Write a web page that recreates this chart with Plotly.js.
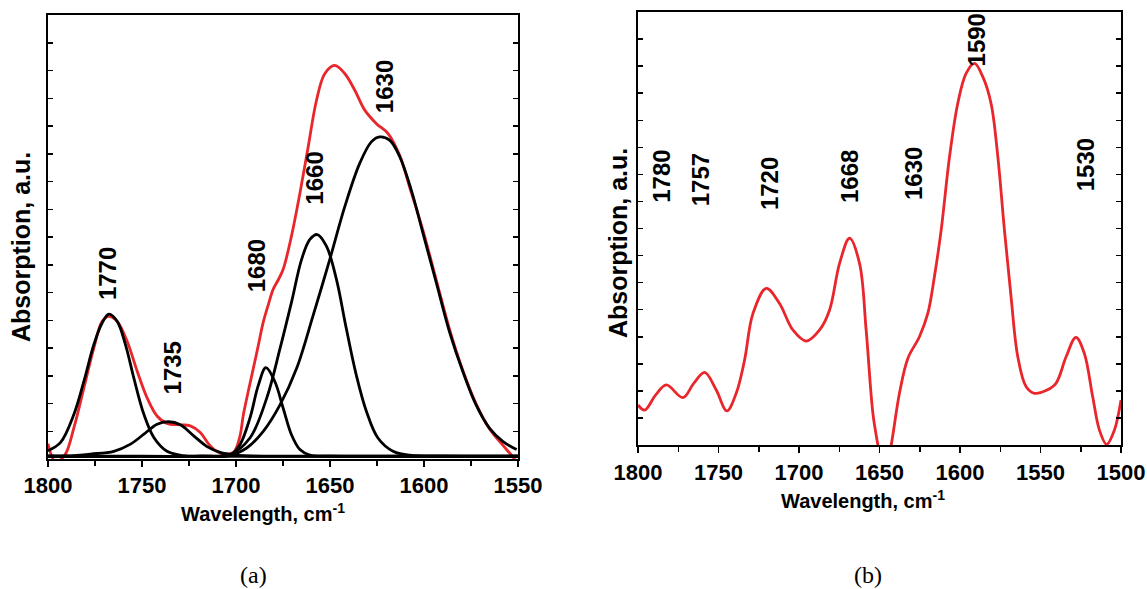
<!DOCTYPE html>
<html>
<head>
<meta charset="utf-8">
<script src="https://cdn.plot.ly/plotly-3.0.1.min.js"></script>
<style>html,body{margin:0;padding:0;background:#fff;}#chart{width:1147px;height:589px;}</style>
</head>
<body>
<div id="chart"></div>
<script>
// ---------- Panel (a): measured spectrum (red) and fitted components (black) ----------
const aSumX = [1800, 1796, 1791, 1786.2, 1780.9, 1775.6, 1771.2, 1767.6, 1763.2, 1757.9, 1752.6, 1747.3, 1742, 1736.7, 1729.6, 1724.3, 1719, 1714.5, 1710.1, 1705.7, 1701.3, 1698, 1696.1, 1693.5, 1690.8, 1688.2, 1685.5, 1682.8, 1680.2, 1677.5, 1674.9, 1670.5, 1666, 1661.6, 1657.2, 1652.8, 1647.5, 1642.1, 1636.8, 1631.5, 1625.3, 1619.1, 1612.9, 1607.6, 1600.6, 1593.5, 1586.4, 1579.3, 1572.3, 1565.2, 1558.1, 1553, 1550];
const aSumY = [0.45, -0.2, 0.05, 1.04, 2.48, 3.93, 4.89, 5.07, 4.89, 4.17, 3.09, 2.12, 1.46, 1.19, 1.14, 1.10, 0.86, 0.44, 0.17, 0.08, 0.14, 0.7, 1.5, 2.35, 3.18, 4.0, 4.86, 5.5, 6.06, 6.4, 6.78, 7.98, 9.54, 11.22, 12.9, 13.87, 14.17, 13.87, 13.27, 12.55, 12.06, 11.7, 10.9, 9.75, 8.2, 6.4, 4.6, 3.1, 1.9, 1.0, 0.4, 0.0, -0.3];

const a1770X = [1800, 1793.3, 1786.2, 1780.9, 1775.6, 1771.2, 1767.6, 1763.2, 1758.8, 1754.4, 1749.0, 1743.7, 1736.7, 1727.8, 1715, 1700, 1650, 1600, 1550];
const a1770Y = [0.2, 0.5, 1.52, 2.72, 4.05, 4.83, 5.15, 4.89, 4.05, 2.85, 1.52, 0.68, 0.18, 0.02, 0, 0, 0, 0, 0];

const a1735X = [1800, 1790, 1777.4, 1765, 1756.1, 1749, 1742, 1735.8, 1729.6, 1722.5, 1715.4, 1708.4, 1701.3, 1690, 1650, 1600, 1550];
const a1735Y = [0, 0.01, 0.08, 0.18, 0.44, 0.80, 1.16, 1.25, 1.14, 0.74, 0.35, 0.14, 0.05, 0, 0, 0, 0];

const a1680X = [1800, 1750, 1712, 1703.2, 1697.9, 1692.6, 1688.1, 1684.1, 1679.3, 1674.9, 1670.5, 1666, 1660.7, 1650, 1600, 1550];
const a1680Y = [0, 0, 0, 0.04, 0.42, 1.38, 2.58, 3.21, 2.70, 1.74, 0.78, 0.24, 0.04, 0, 0, 0];

const a1660X = [1800, 1720, 1703.2, 1692.6, 1683.7, 1676.6, 1670.5, 1665.1, 1660.7, 1656.8, 1651.9, 1646.6, 1641.3, 1636, 1630.6, 1624.5, 1616.5, 1607.6, 1590, 1550];
const a1660Y = [0, 0, 0.06, 0.66, 2.1, 3.9, 5.58, 7.14, 7.86, 8.04, 7.62, 6.42, 4.62, 2.94, 1.62, 0.66, 0.18, 0.04, 0, 0];

const a1630X = [1800, 1720, 1703.2, 1694.3, 1685.5, 1676.6, 1667.8, 1659, 1650.1, 1642.1, 1634.2, 1628, 1623.6, 1618.3, 1612.9, 1606.8, 1600.6, 1593.5, 1586.4, 1579.3, 1572.3, 1565.2, 1558.1, 1550.7];
const a1630Y = [0, 0, 0.04, 0.30, 0.90, 1.86, 3.18, 5.10, 7.14, 9.06, 10.62, 11.40, 11.58, 11.46, 10.86, 9.66, 8.10, 6.30, 4.50, 3.06, 1.86, 1.02, 0.54, 0.24];

const aLabels = ['1770', '1735', '1680', '1660', '1630'];
const aLabelX = [1768.2, 1733.6, 1689, 1658.1, 1620.6];
const aLabelY = [5.6, 2.18, 5.88, 9.06, 12.36];

// ---------- Panel (b): spectrum ----------
const bX = [1800, 1795.9, 1789, 1782.4, 1772.1, 1765.4, 1758.6, 1751.4, 1744.8, 1739, 1733.8, 1728.6, 1720.3, 1712.1, 1703.8, 1695.5, 1687.2, 1681, 1674.8, 1668.6, 1662.4, 1658.3, 1654.1, 1651, 1647, 1642.7, 1637.6, 1632.4, 1625.2, 1620, 1615.9, 1611.7, 1606.5, 1601.4, 1596.2, 1591, 1585.8, 1580.7, 1576.5, 1572.4, 1568.3, 1564.1, 1559, 1553.8, 1546.6, 1540.4, 1534.1, 1528, 1522.8, 1517.6, 1513.4, 1508.9, 1504.1, 1500];
const bY = [1.48, 1.29, 1.85, 2.22, 1.75, 2.28, 2.68, 2.03, 1.26, 1.91, 3.14, 4.86, 5.79, 5.23, 4.25, 3.84, 4.25, 4.99, 6.71, 7.64, 6.71, 4.25, 1.17, 0, -1.3, 0, 1.91, 3.2, 4.0, 4.86, 6.22, 7.94, 10.65, 12.62, 13.73, 14.1, 13.6, 12.62, 10.65, 7.94, 5.48, 3.26, 2.16, 1.91, 2.01, 2.28, 3.26, 3.98, 3.39, 1.79, 0.55, 0.02, 0.55, 1.66];

const bLabels = ['1780', '1757', '1720', '1668', '1630', '1590', '1530'];
const bLabelX = [1785.5, 1760.7, 1718.7, 1668.6, 1629.3, 1590, 1522.1];
const bLabelY = [8.87, 8.74, 8.62, 8.87, 8.99, 13.9, 9.3];

const xTitle = 'Wavelength, cm<sup>-1</sup>';
const yTitle = 'Absorption, a.u.';
const captions = ['(a)', '(b)'];

// ---------- styling ----------
const RED = '#e8262b';
const BLK = '#000000';
const F = 'Liberation Sans, Arial, sans-serif';
const line = (c) => ({color: c, width: 2.8, shape: 'spline', smoothing: 1});

const traces = [
  {x: aSumX, y: aSumY, xaxis: 'x', yaxis: 'y', mode: 'lines', line: line(RED), name: 'spectrum a'},
  {x: a1770X, y: a1770Y, xaxis: 'x', yaxis: 'y', mode: 'lines', line: line(BLK), name: '1770'},
  {x: a1735X, y: a1735Y, xaxis: 'x', yaxis: 'y', mode: 'lines', line: line(BLK), name: '1735'},
  {x: a1680X, y: a1680Y, xaxis: 'x', yaxis: 'y', mode: 'lines', line: line(BLK), name: '1680'},
  {x: a1660X, y: a1660Y, xaxis: 'x', yaxis: 'y', mode: 'lines', line: line(BLK), name: '1660'},
  {x: a1630X, y: a1630Y, xaxis: 'x', yaxis: 'y', mode: 'lines', line: line(BLK), name: '1630'},
  {x: bX, y: bY, xaxis: 'x2', yaxis: 'y2', mode: 'lines', line: line(RED), name: 'spectrum b'}
];

const px2x = (p) => p / 1147;
const py2y = (p) => 1 - p / 589;

const tickFont = {family: F, size: 22, color: BLK, weight: 'bold'};
const labelFont = {family: F, size: 24, color: BLK, weight: 'bold'};
const xTitleFont = {family: F, size: 20, color: BLK, weight: 'bold'};
const yTitleFont = {family: F, size: 25, color: BLK, weight: 'bold'};

function xAxis(domain, range, anchor, standoff) {
  return {
    domain: domain, range: range, anchor: anchor,
    tick0: 1800, dtick: 50, ticks: 'outside', ticklen: 6, tickwidth: 1.5, tickcolor: BLK,
    minor: {dtick: 25, ticks: 'outside', ticklen: 5, tickwidth: 1.5, tickcolor: BLK},
    showline: true, linecolor: BLK, linewidth: 2, mirror: true,
    showgrid: false, zeroline: false, tickfont: tickFont, ticklabelstandoff: standoff
  };
}
function xTop(range, overlay, anchor) {
  return {
    range: range, overlaying: overlay, anchor: anchor, side: 'top',
    tick0: 1800, dtick: 25, ticks: 'inside', ticklen: 5, tickwidth: 1.5, tickcolor: BLK,
    showticklabels: false, showline: false, showgrid: false, zeroline: false
  };
}
function yAxis(domain, range, anchor) {
  return {
    domain: domain, range: range, anchor: anchor,
    tick0: range[0], dtick: (range[1] - range[0]) / 16, ticks: 'inside', ticklen: 5, tickwidth: 1.5, tickcolor: BLK,
    showticklabels: false, showline: true, linecolor: BLK, linewidth: 2, mirror: 'allticks',
    showgrid: false, zeroline: false
  };
}

const annotations = [];
aLabels.forEach((t, i) => annotations.push({
  text: t, x: aLabelX[i], y: aLabelY[i], xref: 'x', yref: 'y', textangle: -90,
  xanchor: 'center', yanchor: 'bottom', showarrow: false, font: labelFont
}));
bLabels.forEach((t, i) => annotations.push({
  text: t, x: bLabelX[i], y: bLabelY[i], xref: 'x2', yref: 'y2', textangle: -90,
  xanchor: 'center', yanchor: 'bottom', showarrow: false, font: labelFont
}));
// axis titles
annotations.push({text: xTitle, x: px2x(263), y: py2y(512), xref: 'paper', yref: 'paper', showarrow: false,
  xanchor: 'center', yanchor: 'middle', font: xTitleFont});
annotations.push({text: xTitle, x: px2x(863), y: py2y(499), xref: 'paper', yref: 'paper', showarrow: false,
  xanchor: 'center', yanchor: 'middle', font: xTitleFont});
annotations.push({text: yTitle, x: px2x(21), y: py2y(247), xref: 'paper', yref: 'paper', showarrow: false,
  textangle: -90, xanchor: 'center', yanchor: 'middle', font: yTitleFont});
annotations.push({text: yTitle, x: px2x(618), y: py2y(243), xref: 'paper', yref: 'paper', showarrow: false,
  textangle: -90, xanchor: 'center', yanchor: 'middle', font: yTitleFont});
// captions
annotations.push({text: captions[0], x: px2x(253), y: py2y(575), xref: 'paper', yref: 'paper', showarrow: false,
  xanchor: 'center', yanchor: 'middle', font: {family: 'Liberation Serif, Times New Roman, serif', size: 24, color: BLK}});
annotations.push({text: captions[1], x: px2x(868), y: py2y(575), xref: 'paper', yref: 'paper', showarrow: false,
  xanchor: 'center', yanchor: 'middle', font: {family: 'Liberation Serif, Times New Roman, serif', size: 24, color: BLK}});

const layout = {
  width: 1147, height: 589,
  margin: {l: 0, r: 0, t: 0, b: 0},
  paper_bgcolor: '#ffffff', plot_bgcolor: '#ffffff',
  showlegend: false, hovermode: false,
  xaxis: xAxis([px2x(48), px2x(518)], [1800, 1550], 'y', 0),
  yaxis: yAxis([py2y(459), py2y(15)], [-0.1, 16], 'x'),
  xaxis3: xTop([1800, 1550], 'x', 'y'),
  xaxis2: xAxis([px2x(638), px2x(1121)], [1800, 1500], 'y2', 1),
  yaxis2: yAxis([py2y(445), py2y(12)], [0, 16], 'x2'),
  xaxis4: xTop([1800, 1500], 'x2', 'y2'),
  annotations: annotations
};

Plotly.newPlot('chart', traces, layout, {staticPlot: true, displayModeBar: false});
</script>
</body>
</html>
